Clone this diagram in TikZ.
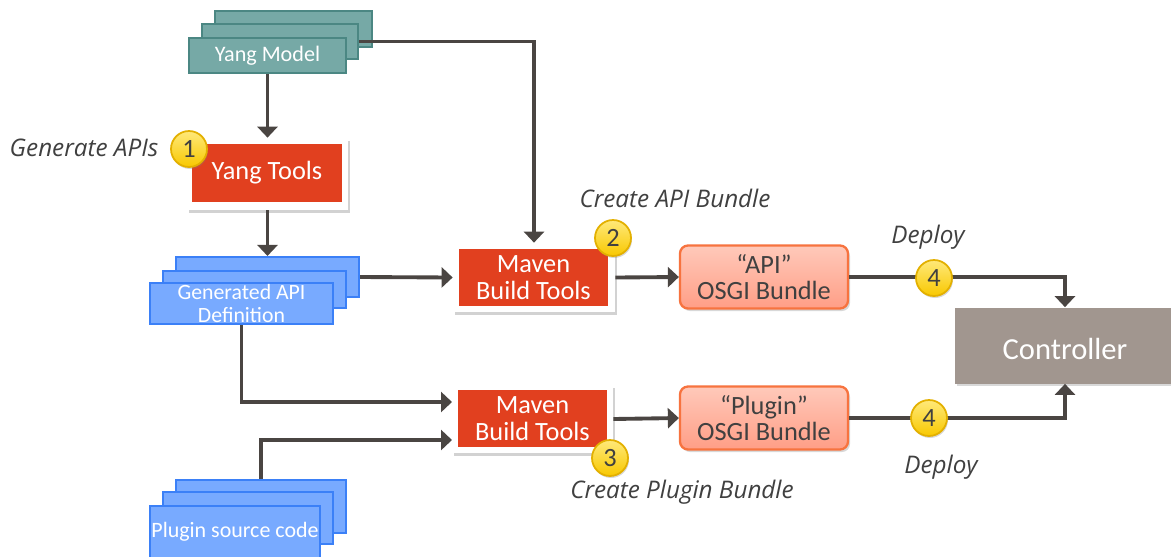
\documentclass[tikz,border=0pt]{standalone}
\usepackage{fontspec}
\setmainfont{Carlito}
\newfontfamily\labfont{Open Sans}
\usetikzlibrary{arrows.meta,shadows}
\definecolor{tealf}{HTML}{76A9A6}
\definecolor{teald}{HTML}{4B8783}
\definecolor{bluef}{HTML}{78AAFF}
\definecolor{blued}{HTML}{3B80F7}
\definecolor{redf}{HTML}{E1401F}
\definecolor{salmt}{HTML}{FFC9BA}
\definecolor{salmb}{HTML}{FF9E86}
\definecolor{salmd}{HTML}{F7733F}
\definecolor{ctrlf}{HTML}{A1968F}
\definecolor{linec}{HTML}{4A4542}
\definecolor{labc}{HTML}{404040}
\definecolor{badt}{HTML}{FFE97A}
\definecolor{badb}{HTML}{F8C800}
\definecolor{badd}{HTML}{E3B000}
\begin{document}
\begin{tikzpicture}[x=0.02cm,y=-0.02cm,
  tealbox/.style={draw=teald,fill=tealf,line width=1.2pt,inner sep=0pt,text=white,
    font=\fontsize{12.6}{12.6}\selectfont},
  bluebox/.style={draw=blued,fill=bluef,line width=1.2pt,inner sep=0pt,text=white,
    font=\fontsize{12.4}{12.6}\selectfont,align=center},
  whitebox/.style={fill=white,inner sep=0pt,
    drop shadow={shadow xshift=0.04cm,shadow yshift=-0.05cm,opacity=0.35}},
  redbox/.style={fill=redf,inner sep=0pt,text=white,align=center,
    font=\fontsize{15}{15}\selectfont},
  bundle/.style={draw=salmd,line width=1.3pt,rounded corners=0.16cm,top color=salmt,bottom color=salmb,
    inner sep=0pt,text=labc,align=center,font=\fontsize{15}{15}\selectfont,
    drop shadow={shadow xshift=0.04cm,shadow yshift=-0.05cm,opacity=0.3}},
  ctrlbox/.style={fill=ctrlf,inner sep=0pt,text=white,
    drop shadow={shadow xshift=0.03cm,shadow yshift=-0.04cm,opacity=0.3}},
  badge/.style={circle,draw=badd,line width=1pt,top color=badt,bottom color=badb,
    minimum size=36*0.02cm,inner sep=0pt,text=labc,font=\fontsize{15}{15}\selectfont,
    drop shadow={shadow xshift=0.02cm,shadow yshift=-0.04cm,opacity=0.3}},
  lab/.style={text=labc,font=\labfont\itshape\fontsize{13.8}{13.8}\selectfont,inner sep=0pt},
  arr/.style={draw=linec,line width=2.2pt,-{Triangle[width=0.4cm,length=0.22cm]}}
]
\clip (0,0) rectangle (1171,556);
\fill[white] (0,0) rectangle (1171,556);

% Yang model stack
\node[tealbox,minimum width=157*0.02cm,minimum height=36*0.02cm] (ym3) at (293.5,29) {};
\node[tealbox,minimum width=156*0.02cm,minimum height=35*0.02cm] (ym2) at (280,41.5) {};
\node[tealbox,minimum width=157*0.02cm,minimum height=35*0.02cm] (ym1) at (267.5,55.5) {Yang Model};

% Yang tools
\node[whitebox,minimum width=161*0.02cm,minimum height=72*0.02cm] (ytw) at (267.5,174) {};
\node[redbox,minimum width=150*0.02cm,minimum height=58*0.02cm] (yt) at (267,173) {Yang Tools};

% Generated API stack
\node[bluebox,minimum width=183*0.02cm,minimum height=40*0.02cm] (ga3) at (267.5,277) {};
\node[bluebox,minimum width=183*0.02cm,minimum height=37*0.02cm] (ga2) at (254.5,289.5) {};
\node[bluebox,minimum width=183*0.02cm,minimum height=41*0.02cm] (ga1) at (241.5,303.5) {Generated API\\Definition};

% Maven 1
\node[whitebox,minimum width=162*0.02cm,minimum height=69*0.02cm] (mv1w) at (534,277.5) {};
\node[redbox,minimum width=149*0.02cm,minimum height=57*0.02cm] (mv1) at (533.5,277.5) {Maven\\Build Tools};

% Maven 2
\node[whitebox,minimum width=161*0.02cm,minimum height=68*0.02cm] (mv2w) at (532.5,419) {};
\node[redbox,minimum width=149*0.02cm,minimum height=57*0.02cm] (mv2) at (532.5,418.5) {Maven\\Build Tools};

% Plugin source stack
\node[bluebox,minimum width=170*0.02cm,minimum height=53*0.02cm] (ps3) at (261,506.5) {};
\node[bluebox,minimum width=170*0.02cm,minimum height=52*0.02cm] (ps2) at (248,518) {};
\node[bluebox,minimum width=170*0.02cm,minimum height=60*0.02cm,anchor=north] (ps1) at (235,505) {};
\node[text=white,inner sep=0pt,font=\fontsize{12.5}{12.5}\selectfont] (pst) at (235,532) {Plugin source code};

% Bundles
\node[bundle,minimum width=168*0.02cm,minimum height=63*0.02cm] (api) at (764,277) {“API”\\OSGI Bundle};
\node[bundle,minimum width=168*0.02cm,minimum height=63*0.02cm] (plg) at (764,418) {“Plugin”\\OSGI Bundle};

% Controller
\node[ctrlbox,minimum width=220*0.02cm,minimum height=76*0.02cm] (ctrl) at (1065,345.5) {};
\node[text=white,inner sep=0pt,font=\fontsize{17.4}{17.4}\selectfont] (ctrlt) at (1065,349) {Controller};

% connector endpoints
\coordinate (in2a) at (452,402);
\coordinate (in2b) at (452,440);

% connectors
\draw[arr] (ym1.south) -- (ytw.north);
\draw[arr] (ym2.east) -| (mv1w.north);
\draw[arr] (ytw.south) -- (ga3.north);
\draw[arr] (ga3.east) -- (mv1w.west);
\draw[arr] (ga1.south) |- (in2a);
\draw[arr] (ps3.north) |- (in2b);
\draw[arr] (mv1w.east) -- (api.west);
\draw[arr] (mv2w.east) -- (plg.west);
\draw[arr] (api.east) -| (ctrl.north);
\draw[arr] (plg.east) -| (ctrl.south);

% badges
\node[badge] (b1) at (189,149) {1};
\node[badge] (b2) at (613,238) {2};
\node[badge] (b3) at (610,458) {3};
\node[badge] (b4a) at (934,278) {4};
\node[badge] (b4b) at (929,418) {4};

% labels
\node[lab] (l1) at (84,148) {Generate APIs};
\node[lab] (l2) at (675,198) {Create API Bundle};
\node[lab] (l3) at (682,492) {Create Plugin Bundle};
\node[lab] (l4) at (928,237) {Deploy};
\node[lab] (l5) at (941,467) {Deploy};
\end{tikzpicture}
\end{document}
